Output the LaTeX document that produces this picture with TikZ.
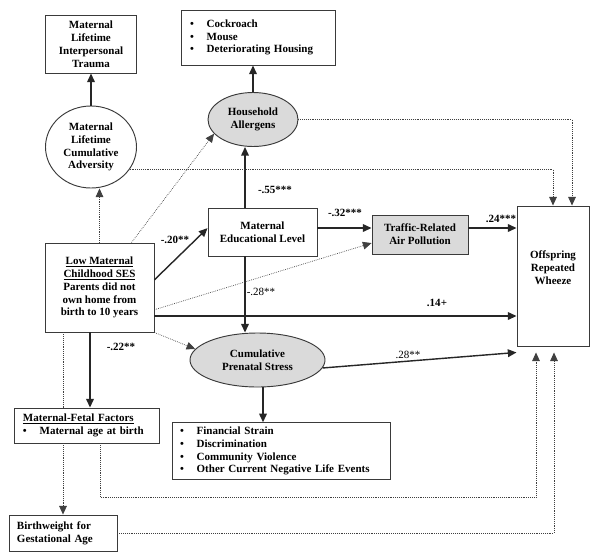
\documentclass[tikz,border=0pt]{standalone}
\usepackage{fontspec}
\setmainfont{Liberation Serif}
\usetikzlibrary{arrows.meta, shapes.geometric, calc}
\definecolor{FillGray}{HTML}{DADADA}
\definecolor{Edge}{HTML}{3A3A3A}
\newcommand{\bitem}[1]{\makebox[0.5cm][l]{\textbullet}#1}

\begin{document}
\begin{tikzpicture}[
    x=0.03cm, y=-0.03cm,
    every node/.style={font=\fontsize{9.4}{11}\selectfont\bfseries},
    box/.style={draw=Edge, thick, align=center, inner sep=2pt, fill=white},
    listbox/.style={draw=Edge, thick, align=left, fill=white},
    oval/.style={draw=Edge, thick, ellipse, align=center, inner sep=0pt},
    arr/.style={-{Triangle[length=2.6mm, width=2.3mm]}, line width=1.2pt, color=black!85},
    darr/.style={-{Triangle[length=2.6mm, width=2.3mm]}, densely dotted, line width=0.6pt, color=black!75},
    dline/.style={densely dotted, line width=0.6pt, color=black!75},
    lbl/.style={inner sep=1pt},
    lbln/.style={inner sep=1pt, font=\fontsize{9.4}{11}\selectfont}
]
\useasboundingbox (0,0) rectangle (600,558);

% Left column
\node[box, minimum width=2.73cm, minimum height=1.74cm] (trauma) at (91,44) {Maternal\\Lifetime\\Interpersonal\\Trauma};
\node[oval, minimum width=2.73cm, minimum height=2.46cm] (adversity) at (91,147) {Maternal\\Lifetime\\Cumulative\\Adversity};
\node[box, minimum width=3.27cm, minimum height=2.67cm] (ses) at (99.5,287.5) {\underline{Low Maternal}\\\underline{Childhood SES}\\Parents did not\\own home from\\birth to 10 years};
\node[listbox, inner xsep=0.27cm, text width=3.81cm, minimum height=1.05cm] (mf) at (86.5,425.5) {\underline{Maternal-Fetal Factors}\\\bitem{Maternal age at birth}};
\node[listbox, inner xsep=0.24cm, text width=2.76cm, minimum height=1.08cm] (bw) at (63,533) {Birthweight for\\Gestational Age};

% Middle column
\node[listbox, inner xsep=0.27cm, text width=4.08cm, minimum height=1.65cm] (allitems) at (258,37.5) {\bitem{Cockroach}\\\bitem{Mouse}\\\bitem{Deteriorating Housing}};
\node[oval, fill=FillGray, minimum width=2.7cm, minimum height=1.62cm] (allergens) at (253,119.5) {Household\\Allergens};
\node[box, minimum width=3.27cm, minimum height=1.44cm] (edu) at (262.5,232) {Maternal\\Educational Level};
\node[oval, fill=FillGray, minimum width=4.05cm, minimum height=1.62cm] (stress) at (257.5,360) {Cumulative\\Prenatal Stress};
\node[listbox, inner xsep=0.24cm, text width=6.06cm, minimum height=1.62cm] (stressitems) at (281,451) {\bitem{Financial Strain}\\\bitem{Discrimination}\\\bitem{Community Violence}\\\bitem{Other Current Negative Life Events}};

% Right column
\node[box, fill=FillGray, minimum width=2.88cm, minimum height=1.17cm] (traffic) at (420,234.5) {Traffic-Related\\Air Pollution};
\node[box, minimum width=2.16cm, minimum height=4.2cm, text depth=0.49cm] (wheeze) at (553,276) {Offspring\\Repeated\\Wheeze};

% Solid paths
\draw[arr] (adversity) -- (trauma);
\draw[arr] (allergens.north) -- (allergens.north |- allitems.south);
\coordinate (eduup) at ($(edu.north)+(-17.5,0)$);
\draw[arr] (eduup) -- (eduup |- allergens.south);
\draw[arr] (eduup |- edu.south) -- (eduup |- stress.north);
\draw[arr] (ses.8) -- (edu.176);
\draw[arr] ($(edu.east)+(0,-4)$) coordinate (e1) -- (e1 -| traffic.west);
\draw[arr] ($(traffic.east)+(0,-6.5)$) coordinate (t1) -- (t1 -| wheeze.west);
\draw[arr] ($(ses.east)+(0,28.5)$) coordinate (s1) -- (s1 -| wheeze.west);
\draw[arr] (stress.-7) -- ($(wheeze.south west)+(0,6)$);
\draw[arr] ($(ses.south)+(-9.5,0)$) coordinate (s2) -- (s2 |- mf.north);
\draw[arr] ($(stress.south)+(5.5,0)$) coordinate (s3) -- (s3 |- stressitems.north);

% Dotted paths
\draw[darr] (ses.north) -- (ses.north |- adversity.south);
\draw[darr] ($(ses.north)+(32,0)$) -- (allergens.200);
\draw[darr] (ses.-22) -- (traffic.190);
\draw[darr] (ses.south east) -- (stress.170);
\draw[darr] (allergens.east) -| ($(wheeze.north)+(19,0)$);
\draw[darr] (adversity.-30) -| (wheeze.north);
\draw[dline] (bw.north |- ses.south) -- (bw.north |- mf.north);
\draw[darr] (bw.north |- mf.south) -- (bw.north);
\coordinate (rail) at (300,497);
\draw[darr, shorten >=0.18cm] ($(mf.south)+(13.5,0)$) |- (rail) -| ($(wheeze.south)+(-17,0)$);
\draw[darr, shorten >=0.18cm] (bw.east) -| ($(wheeze.south)+(1,0)$);

% Path coefficients
\node[lbl] (c20) at (175,240) {-.20**};
\node[lbl] (c55) at (275,190) {-.55***};
\node[lbl] (c32) at (345,213) {-.32***};
\node[lbl] (c24) at (501,219) {.24***};
\node[lbln] (c28a) at (261,292) {-.28**};
\node[lbl] (c14) at (437,303) {.14+};
\node[lbln] (c28b) at (408,355) {.28**};
\node[lbl] (c22) at (121,347) {-.22**};

\end{tikzpicture}
\end{document}
